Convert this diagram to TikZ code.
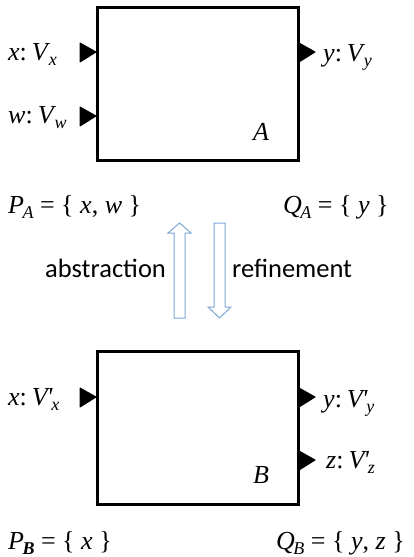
\documentclass[tikz,border=0pt]{standalone}
\usepackage{fontspec}
\setmainfont{Liberation Serif}
\newfontfamily\labsans{Carlito}
\newcommand\lsub[1]{\kern-1.5pt\raisebox{-5pt}{\fontsize{18}{18}\selectfont\itshape #1}}
\newcommand\vv[1]{\textit{#1}}
\newcommand\pr{\kern-1pt\textquotesingle}
\begin{document}
\begin{tikzpicture}[x=1pt,y=-1pt,
  blockbox/.style={draw=black,line width=3pt,fill=white},
  lbl/.style={anchor=base west,inner sep=0pt,font=\fontsize{26}{26}\selectfont},
  sanslbl/.style={anchor=base west,inner sep=0pt,font=\fontsize{26.5}{26.5}\selectfont\labsans},
  porttri/.style={fill=black,draw=black,line width=1pt,line join=round},
  bigarrow/.style={draw={rgb,255:red,126;green,166;blue,214},line width=1pt,fill=white,line join=miter}]
\useasboundingbox (0,0) rectangle (414,557);
% boxes
\draw[blockbox] (97,7) rectangle (298,160);
\coordinate (A) at (197.5,83.5);
\draw[blockbox] (97,351) rectangle (298,504);
\coordinate (B) at (197.5,427.5);
% ports box A
\fill[porttri] (80,43) -- (96,52) -- (80,62) -- cycle;
\fill[porttri] (80,107) -- (96,116) -- (80,126) -- cycle;
\fill[porttri] (299,43) -- (315,52) -- (299,62) -- cycle;
% ports box B
\fill[porttri] (80,388) -- (96,397) -- (80,407) -- cycle;
\fill[porttri] (299,388) -- (315,397) -- (299,407) -- cycle;
\fill[porttri] (299,451) -- (315,460) -- (299,470) -- cycle;
% labels A
\node[lbl] (lx) at (8,60) {\vv{x}:\hspace{5pt}\vv{V}\lsub{x}};
\node[lbl] (lw) at (8,123) {\vv{w}:\hspace{5pt}\vv{V}\lsub{w}};
\node[lbl] (ly) at (323,61) {\vv{y}:\hspace{5pt}\vv{V}\lsub{y}};
\node[lbl] (nA) at (253,140) {\vv{A}};
\node[lbl] (PA) at (8,213) {\vv{P}\lsub{A} = \{ \vv{x}, \vv{w} \}};
\node[lbl] (QA) at (283,213) {\vv{Q}\lsub{A} = \{ \vv{y} \}};
% arrows
\draw[bigarrow] (174,318) -- (174,233) -- (168,233) -- (179.5,223) -- (191,233) -- (185,233) -- (185,318) -- cycle;
\draw[bigarrow] (214,223) -- (214,307) -- (208,307) -- (219.5,318) -- (231,307) -- (225,307) -- (225,223) -- cycle;
\node[sanslbl] (abs) at (45,277) {abstraction};
\node[sanslbl] (ref) at (232,277) {refinement};
% labels B
\node[lbl] (lxb) at (8,405) {\vv{x}:\hspace{5pt}\vv{V\pr}\lsub{x}};
\node[lbl] (lyb) at (323,407) {\vv{y}:\hspace{5pt}\vv{V\pr}\lsub{y}};
\node[lbl] (lzb) at (326,468) {\vv{z}:\hspace{5pt}\vv{V\pr}\lsub{z}};
\node[lbl] (nB) at (253,483) {\vv{B}};
\node[lbl] (PB) at (8,549) {\vv{P}\lsub{\bfseries B} = \{ \vv{x} \}};
\node[lbl] (QB) at (276,549) {\vv{Q}\lsub{B} = \{ \vv{y}, \vv{z} \}};
\end{tikzpicture}
\end{document}
